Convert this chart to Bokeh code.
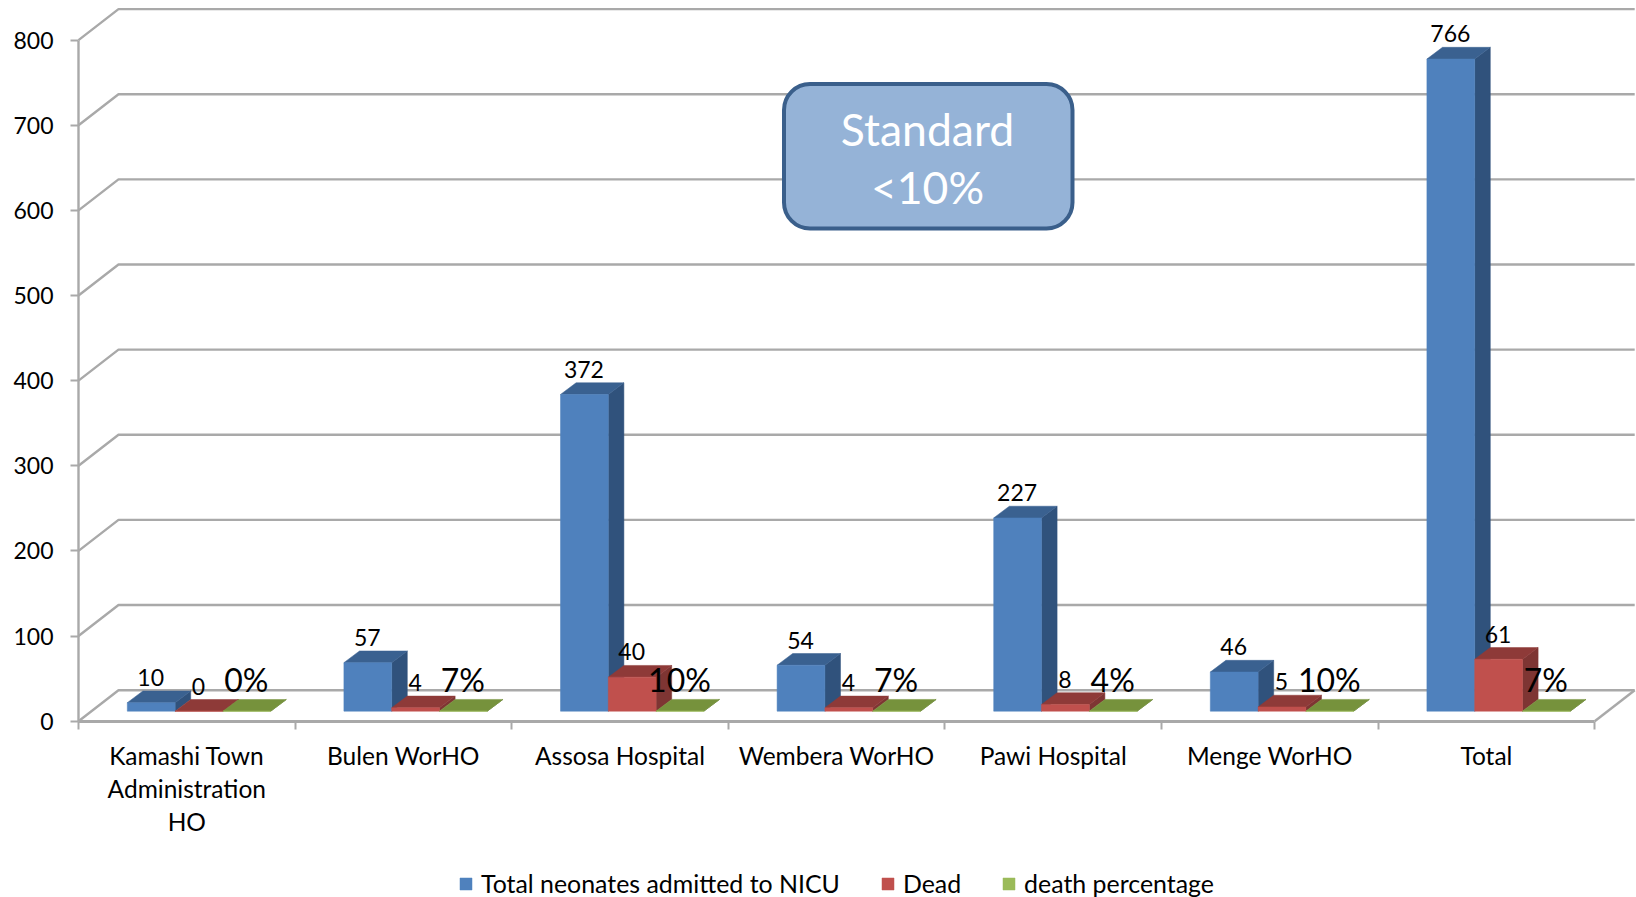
from bokeh.plotting import figure
from bokeh.models import Range1d, LinearAxis, FixedTicker, BoxAnnotation, Legend, LegendItem
from bokeh.core.properties import value
from bokeh.embed import file_html
from bokeh.resources import INLINE

categories = ["Kamashi Town\nAdministration\nHO", "Bulen WorHO", "Assosa Hospital",
              "Wembera WorHO", "Pawi Hospital", "Menge WorHO", "Total"]
admitted = [10, 57, 372, 54, 227, 46, 766]
dead = [0, 4, 40, 4, 8, 5, 61]
death_pct = [0, 7, 10, 7, 4, 10, 7]
y_ticks = [0, 100, 200, 300, 400, 500, 600, 700, 800]
series_names = ["Total neonates admitted to NICU", "Dead", "death percentage"]

FONT = "Lato"
W, H = 1636, 897
PX_X = 216.6      # px per category
PX_Y = 0.8514     # px per value unit
X0, Y0 = 78, 720.7
GRID = "#a9a9a9"

def dx(px):  # page x to data
    return (px - X0) / PX_X
def dy(py):  # page y to data
    return (Y0 - py) / PX_Y

wall_dx, wall_dy = 40 / PX_X, 31 / PX_Y
bar_dx, bar_dy = 15.6 / PX_X, 11.7 / PX_Y
bar_w = 47.8 / PX_X
bar_off = 48.8 / PX_X
base = 10 / PX_Y

p = figure(width=W, height=H, output_backend="svg", toolbar_location=None,
           x_range=Range1d(-X0 / PX_X, (W - X0) / PX_X),
           y_range=Range1d(-(H - Y0) / PX_Y, Y0 / PX_Y),
           x_axis_type=None, y_axis_type=None, min_border=0)
p.outline_line_color = None
p.grid.visible = False
p.background_fill_color = "white"

xmax = 7 + wall_dx
p.multi_line([[0, wall_dx, xmax] for _ in y_ticks],
             [[v, v + wall_dy, v + wall_dy] for v in y_ticks],
             line_color=GRID, line_width=2.4)
p.line([7, xmax], [0, wall_dy], line_color=GRID, line_width=2.4)

styles = [("#4f81bd", "#3a6190", "#30527c"),
          ("#c0504d", "#8e3a38", "#7e3533"),
          ("#9bbb59", "#76923c", "#64803a")]
heights = [admitted, dead, [v / 100 for v in death_pct]]
legend_items = []
for s, (vals, (front, top, side)) in enumerate(zip(heights, styles)):
    lefts = [i + bar_off + s * bar_w for i in range(len(vals))]
    rights = [l + bar_w for l in lefts]
    bottoms = [base] * len(vals)
    tops = [base + v for v in vals]
    p.patches([[r, r + bar_dx, r + bar_dx, r] for r in rights],
              [[base, base + bar_dy, t + bar_dy, t] for t in tops],
              fill_color=side, line_color=side, line_width=0.5)
    p.patches([[l, l + bar_dx, r + bar_dx, r] for l, r in zip(lefts, rights)],
              [[t, t + bar_dy, t + bar_dy, t] for t in tops],
              fill_color=top, line_color=top, line_width=0.5)
    q = p.quad(left=lefts, right=rights, bottom=bottoms, top=tops,
               fill_color=front, line_color=front, line_width=0.5)
    legend_items.append(LegendItem(label=series_names[s], renderers=[q]))
    centers = [(l + r) / 2 for l, r in zip(lefts, rights)]
    if s < 2:
        texts = [str(v) for v in vals]
        size, off = "23px", -13.5
    else:
        texts = [f"{v}%" for v in death_pct]
        size, off = "32px", -20
    p.text(centers, [t + bar_dy for t in tops], text=texts,
           text_font=value(FONT), text_font_size=size, text_color="black",
           text_align="center", text_baseline="alphabetic", x_offset=-0.5, y_offset=off)

yax = LinearAxis(fixed_location=0, ticker=FixedTicker(ticks=y_ticks), bounds=(0, 800))
yax.axis_line_color = GRID
yax.axis_line_width = 2.4
yax.major_tick_line_color = GRID
yax.major_tick_line_width = 2
yax.major_tick_out = 8
yax.major_tick_in = 0
yax.minor_tick_line_color = None
yax.major_label_text_font = FONT
yax.major_label_text_font_size = "23px"
yax.major_label_text_color = "black"
yax.major_label_standoff = 17
p.add_layout(yax, "left")

xax = LinearAxis(fixed_location=0,
                 ticker=FixedTicker(ticks=[i + 0.5 for i in range(len(categories))],
                                    minor_ticks=list(range(len(categories) + 1))),
                 bounds=(0, 7))
xax.major_label_overrides = {i + 0.5: c for i, c in enumerate(categories)}
xax.axis_line_color = GRID
xax.axis_line_width = 2.8
xax.major_tick_line_color = None
xax.major_tick_out = 0
xax.major_tick_in = 0
xax.minor_tick_line_color = GRID
xax.minor_tick_line_width = 2
xax.minor_tick_out = 8
xax.minor_tick_in = 0
xax.major_label_text_font = FONT
xax.major_label_text_font_size = "24.5px"
xax.major_label_text_color = "black"
xax.major_label_text_line_height = 1.14
xax.major_label_standoff = 12
p.add_layout(xax, "below")

box = BoxAnnotation(left=dx(783.5), right=dx(1072), top=dy(83.5), bottom=dy(228),
                    fill_color="#95b3d7", fill_alpha=1, line_color="#3a5f8b", line_alpha=1,
                    line_width=4, border_radius=26, level="annotation")
p.add_layout(box)
p.text([dx(927)] * 2, [dy(127.5), dy(185.5)],
       text=["Standard", "<10%"], text_font=value(FONT), text_font_size="44.5px",
       text_color="white", text_align="center", text_baseline="alphabetic",
       level="overlay")

legend = Legend(items=legend_items, orientation="horizontal", location=(458, -1),
                border_line_color=None, background_fill_alpha=0,
                glyph_width=15, glyph_height=15, label_standoff=8, spacing=40,
                label_text_font=FONT, label_text_font_size="24.9px",
                label_text_color="black", padding=0, margin=0)
p.add_layout(legend)

open("out.html", "w").write(file_html(p, INLINE))
